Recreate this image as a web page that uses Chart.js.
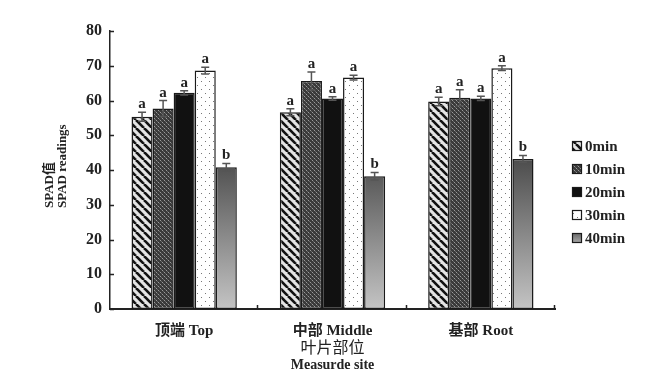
<!DOCTYPE html>
<html lang="zh">
<head>
    <meta charset="UTF-8">
    <title>SPAD readings</title>
    <script src="https://cdn.jsdelivr.net/npm/chart.js"></script>
    <style>
        html, body { margin: 0; padding: 0; background: #fff; }
        #wrap { width: 667px; height: 390px; position: relative; }
    </style>
</head>
<body>
    <div id="wrap"><canvas id="spadChart"></canvas></div>

    <script>
        // Categories and series
        const sites = ['顶端 Top', '中部 Middle', '基部 Root'];
        const seriesNames = ['0min', '10min', '20min', '30min', '40min'];
        const min0 = [55.3, 56.6, 59.7];
        const min10 = [57.7, 65.6, 60.8];
        const min20 = [62.2, 60.6, 60.6];
        const min30 = [68.6, 66.6, 69.3];
        const min40 = [40.8, 38.2, 43.2];
        const err0 = [1.3, 1.0, 1.2];
        const err10 = [2.3, 2.6, 2.3];
        const err20 = [0.6, 0.5, 0.6];
        const err30 = [1.0, 0.7, 0.7];
        const err40 = [1.1, 1.1, 1.0];
        const letters0 = ['a', 'a', 'a'];
        const letters10 = ['a', 'a', 'a'];
        const letters20 = ['a', 'a', 'a'];
        const letters30 = ['a', 'a', 'a'];
        const letters40 = ['b', 'b', 'b'];
        const yTicks = [0, 10, 20, 30, 40, 50, 60, 70, 80];

        const serif = "'Liberation Serif', 'Noto Sans CJK SC', serif";

        // fill patterns
        function makePattern(size, draw) {
            const c = document.createElement('canvas');
            c.width = size; c.height = size;
            const g = c.getContext('2d');
            draw(g, size);
            return g.createPattern(c, 'repeat');
        }
        const stripes = makePattern(8, (g, s) => {
            g.fillStyle = '#e4e4e4';
            g.fillRect(0, 0, s, s);
            g.strokeStyle = '#111';
            g.lineWidth = 2.6;
            for (let k = -1; k <= 1; k++) {
                g.beginPath();
                g.moveTo(k * s, 0);
                g.lineTo(k * s + s, s);
                g.stroke();
            }
        });
        const checker = makePattern(4, (g, s) => {
            g.fillStyle = '#3a3a3a';
            g.fillRect(0, 0, s, s);
            g.fillStyle = '#9a9a9a';
            g.fillRect(0, 0, 1, 1);
            g.fillRect(2, 2, 1, 1);
            g.fillStyle = '#666';
            g.fillRect(1, 1, 1, 1);
            g.fillRect(3, 3, 1, 1);
        });
        const dots = makePattern(8, (g, s) => {
            g.fillStyle = '#fff';
            g.fillRect(0, 0, s, s);
            g.fillStyle = '#777';
            g.fillRect(1, 1, 1, 1);
            g.fillRect(5, 5, 1, 1);
        });

        function gradientFill(context) {
            const chart = context.chart;
            const area = chart.chartArea;
            if (!area) return '#888';
            const y = chart.scales.y;
            const grad = chart.ctx.createLinearGradient(0, y.getPixelForValue(44), 0, y.getPixelForValue(0));
            grad.addColorStop(0, '#4a4a4a');
            grad.addColorStop(1, '#c4c4c4');
            return grad;
        }

        const fills = [stripes, checker, '#111', dots, gradientFill];
        const values = [min0, min10, min20, min30, min40];
        const errors = [err0, err10, err20, err30, err40];
        const letters = [letters0, letters10, letters20, letters30, letters40];

        const datasets = seriesNames.map((name, i) => ({
            label: name,
            data: values[i],
            errors: errors[i],
            letters: letters[i],
            backgroundColor: fills[i],
            borderColor: '#1a1a1a',
            borderWidth: 1.5,
            borderSkipped: false,
            categoryPercentage: 0.71,
            barPercentage: 1.0
        }));

        // error bars, significance letters, inward ticks, axis titles, legend
        const extras = {
            id: 'extras',
            afterDatasetsDraw(chart) {
                const ctx = chart.ctx;
                const y = chart.scales.y;
                ctx.save();
                chart.data.datasets.forEach((ds, i) => {
                    const meta = chart.getDatasetMeta(i);
                    meta.data.forEach((bar, j) => {
                        const v = ds.data[j];
                        const e = ds.errors[j];
                        const top = y.getPixelForValue(v + e);
                        const bot = y.getPixelForValue(v - e);
                        ctx.strokeStyle = '#555';
                        ctx.lineWidth = 1.5;
                        ctx.beginPath();
                        ctx.moveTo(bar.x, top);
                        ctx.lineTo(bar.x, bot);
                        ctx.moveTo(bar.x - 4, top);
                        ctx.lineTo(bar.x + 4, top);
                        ctx.moveTo(bar.x - 4, bot);
                        ctx.lineTo(bar.x + 4, bot);
                        ctx.stroke();
                        ctx.fillStyle = '#222';
                        ctx.font = 'bold 15px ' + serif;
                        ctx.textAlign = 'center';
                        ctx.textBaseline = 'alphabetic';
                        ctx.fillText(ds.letters[j], bar.x, top - 4);
                    });
                });
                ctx.restore();
            },
            afterDraw(chart) {
                const ctx = chart.ctx;
                const area = chart.chartArea;
                const y = chart.scales.y;
                ctx.save();
                ctx.strokeStyle = '#222';
                ctx.lineWidth = 1.5;
                ctx.beginPath();
                yTicks.forEach(t => {
                    const py = Math.round(y.getPixelForValue(t)) + 0.5;
                    ctx.moveTo(area.left, py);
                    ctx.lineTo(area.left + 4, py);
                });
                for (let k = 1; k <= sites.length; k++) {
                    const px = Math.round(area.left + k * (area.right - area.left) / sites.length) - 0.5;
                    ctx.moveTo(px, area.bottom);
                    ctx.lineTo(px, area.bottom - 4);
                }
                ctx.stroke();

                // x title
                const cx = (area.left + area.right) / 2;
                ctx.fillStyle = '#222';
                ctx.textAlign = 'center';
                ctx.textBaseline = 'middle';
                ctx.font = '16px ' + serif;
                ctx.fillText('叶片部位', cx, 349);
                ctx.font = 'bold 14px ' + serif;
                ctx.fillText('Measurde site', cx, 365);

                // y title, two rotated lines
                ctx.save();
                ctx.translate(50, 208);
                ctx.rotate(-Math.PI / 2);
                ctx.textAlign = 'left';
                ctx.font = 'bold 13px ' + serif;
                ctx.fillText('SPAD值', 0, 0);
                ctx.restore();
                ctx.save();
                ctx.translate(63, 208);
                ctx.rotate(-Math.PI / 2);
                ctx.textAlign = 'left';
                ctx.font = 'bold 13px ' + serif;
                ctx.fillText('SPAD readings', 0, 0);
                ctx.restore();

                // legend
                chart.data.datasets.forEach((ds, i) => {
                    const ly = 146 + i * 23;
                    const bx = 572;
                    let fill = ds.backgroundColor;
                    if (typeof fill === 'function') {
                        const g = ctx.createLinearGradient(0, ly - 5, 0, ly + 5);
                        g.addColorStop(0, '#666');
                        g.addColorStop(1, '#aaa');
                        fill = g;
                    }
                    ctx.fillStyle = fill;
                    ctx.fillRect(bx, ly - 5, 10, 10);
                    ctx.strokeStyle = '#1a1a1a';
                    ctx.lineWidth = 1.2;
                    ctx.strokeRect(bx + 0.5, ly - 4.5, 9, 9);
                    ctx.fillStyle = '#222';
                    ctx.textAlign = 'left';
                    ctx.textBaseline = 'middle';
                    ctx.font = 'bold 15px ' + serif;
                    ctx.fillText(ds.label, bx + 13, ly + 1);
                });
                ctx.restore();
            }
        };

        new Chart(document.getElementById('spadChart'), {
            type: 'bar',
            data: { labels: sites, datasets: datasets },
            options: {
                responsive: true,
                maintainAspectRatio: false,
                animation: false,
                layout: { padding: { top: 31, right: 112, left: 0, bottom: 0 } },
                plugins: {
                    legend: { display: false },
                    tooltip: { enabled: false }
                },
                scales: {
                    x: {
                        grid: { display: false, drawTicks: false },
                        border: { display: true, color: '#222', width: 2 },
                        ticks: {
                            padding: 13,
                            color: '#222',
                            font: { family: serif, size: 15, weight: 'bold' }
                        },
                        afterFit(scale) { scale.height = 81; }
                    },
                    y: {
                        min: 0,
                        max: 80,
                        grid: { display: false, drawTicks: false },
                        border: { display: true, color: '#222', width: 1.5 },
                        afterBuildTicks(scale) { scale.ticks = yTicks.map(v => ({ value: v })); },
                        ticks: {
                            padding: 8,
                            color: '#222',
                            font: { family: serif, size: 16, weight: 'bold' }
                        },
                        afterFit(scale) { scale.width = 110; }
                    }
                }
            },
            plugins: [extras]
        });
    </script>
</body>
</html>
